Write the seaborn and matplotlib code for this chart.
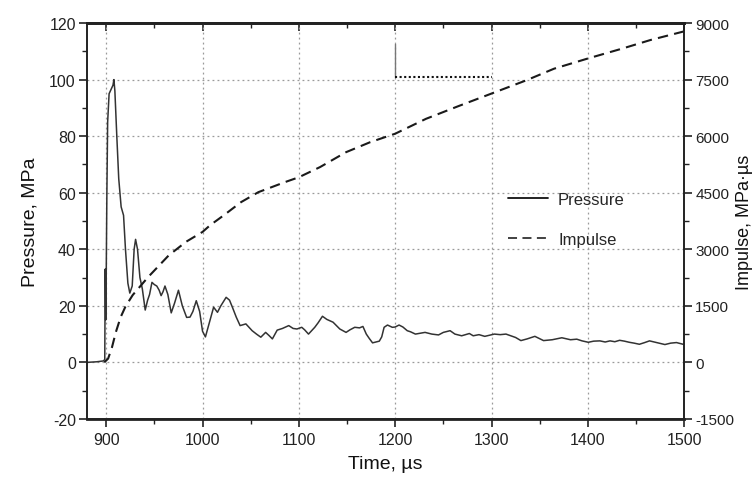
import matplotlib
matplotlib.use("Agg")
import matplotlib.pyplot as plt
import pandas as pd
import seaborn as sns
from matplotlib.lines import Line2D
from matplotlib.ticker import MultipleLocator

sns.set_theme(style="ticks")
plt.rcParams["font.family"] = ["Liberation Sans", "DejaVu Sans"]
plt.rcParams["axes.unicode_minus"] = False

# Pressure trace, MPa
time_p = [
    880, 890, 897, 898.5, 899, 899.5, 900, 900.7, 901.5, 903,
    905, 907, 908, 909, 911, 913, 915.5, 918, 920, 922.5,
    924.5, 927, 929, 930.5, 932.5, 935, 937.5, 940.5, 943, 945,
    947.5, 950, 952.5, 955, 957, 959, 961, 964, 967.5, 971,
    975, 979, 983.5, 987, 990, 993.5, 997, 1000, 1003, 1007,
    1011.5, 1015.5, 1019, 1024.5, 1028, 1031, 1035, 1039, 1045, 1051.5,
    1056, 1060.5, 1065.5, 1069, 1072.5, 1077.5, 1083, 1089.5, 1094, 1098,
    1103, 1106, 1110, 1116.5, 1120, 1124.5, 1129, 1135.5, 1142.5, 1149,
    1153, 1158, 1163, 1166.5, 1170, 1173, 1176.5, 1180, 1183.5, 1186,
    1188.5, 1192, 1197, 1200, 1204, 1208, 1212.5, 1216, 1221, 1226,
    1231, 1238, 1245, 1250, 1257, 1262, 1269, 1277, 1281, 1287,
    1293, 1298, 1303, 1309, 1315, 1320, 1325, 1330.5, 1337, 1345,
    1354, 1363, 1373, 1382, 1388.5, 1394, 1400.5, 1406, 1412.5, 1418,
    1423, 1428, 1433, 1438, 1443, 1448, 1453.5, 1459, 1464, 1469,
    1473, 1480, 1486, 1492, 1500,
]
pressure = [
    0, 0.2, 0.5, 1, 33, 15, 30, 60, 85, 95,
    96.5, 98, 100, 96, 80, 65, 55, 52, 40, 28,
    24.5, 27, 40, 43.5, 40, 30, 26, 18.5, 22, 24,
    28.3, 27.5, 27, 25.5, 23.6, 25, 27, 24, 17.5, 21,
    25.5, 20, 15.9, 16, 18, 21.8, 18, 11, 9, 14,
    19.5, 17.7, 20, 23, 22, 19.5, 16, 13, 13.6, 11.2,
    10, 8.9, 10.6, 9.5, 8.3, 11.4, 12, 13, 12, 11.8,
    12.4, 11.5, 10, 12.4, 14, 16.3, 15.2, 14.2, 11.8, 10.6,
    11.5, 12.4, 12.2, 12.7, 10, 8.5, 6.9, 7.2, 7.5, 9,
    12.4, 13.2, 12.4, 12.5, 13.2, 12.5, 11.2, 10.8, 10, 10.3,
    10.6, 10, 9.7, 10.6, 11.2, 10, 9.4, 10.2, 9.4, 9.8,
    9.2, 9.6, 10, 9.8, 10, 9.4, 8.8, 7.7, 8.3, 9.2,
    7.7, 8, 8.7, 8, 8.2, 7.6, 7.1, 7.5, 7.6, 7.2,
    7.6, 7.3, 7.8, 7.5, 7.1, 6.8, 6.4, 7, 7.6, 7.2,
    6.9, 6.3, 6.8, 7, 6.3,
]

# Impulse, MPa·µs
time_i = [
    898, 902, 906, 910, 915, 920, 927.5, 943.6, 965, 983,
    1000, 1008, 1022, 1040, 1058, 1086, 1100, 1122, 1149, 1174,
    1200, 1232, 1266, 1300, 1336, 1365, 1400, 1436, 1465, 1500,
]
impulse = [
    0, 100, 400, 800, 1200, 1480, 1785, 2265, 2840, 3200,
    3460, 3640, 3900, 4250, 4515, 4785, 4910, 5180, 5575, 5840,
    6065, 6460, 6800, 7130, 7480, 7790, 8060, 8325, 8550, 8780,
]

# small scale marker near the top of the plot
mark_vert_t = [1200, 1200]
mark_vert_p = [101, 112.5]
mark_horz_t = [1200, 1300]
mark_horz_p = [101, 101]

df_p = pd.DataFrame({"time": time_p, "pressure": pressure})
df_i = pd.DataFrame({"time": time_i, "impulse": impulse})

fig = plt.figure(figsize=(7.56, 4.81), dpi=100)
ax = fig.add_axes([0.115, 0.127, 0.79, 0.823])
ax2 = ax.twinx()

sns.lineplot(data=df_p, x="time", y="pressure", color="#333333", linewidth=1.1,
             ax=ax, estimator=None, sort=False)
sns.lineplot(data=df_i, x="time", y="impulse", color="#1a1a1a", linewidth=1.5,
             ax=ax2, estimator=None, sort=False, dashes=False)
ax2.lines[0].set_dashes((5, 3))

ax.plot(mark_vert_t, mark_vert_p, color="#777777", linewidth=1.0)
ax.plot(mark_horz_t, mark_horz_p, color="#111111", linewidth=1.5, linestyle=(0, (1, 1.2)))

ax.set_xlim(880, 1500)
ax.set_ylim(-20, 120)
ax2.set_ylim(-1500, 9000)

ax.xaxis.set_major_locator(MultipleLocator(100))
ax.xaxis.set_minor_locator(MultipleLocator(50))
ax.yaxis.set_major_locator(MultipleLocator(20))
ax.yaxis.set_minor_locator(MultipleLocator(10))
ax2.yaxis.set_major_locator(MultipleLocator(1500))
ax2.yaxis.set_minor_locator(MultipleLocator(750))

ax.grid(True, which="major", linestyle=(0, (1.5, 2.5)), color="#9a9a9a", linewidth=0.9)
ax.set_axisbelow(True)

tick_color = "#222222"
ax.tick_params(axis="both", which="major", direction="out", length=6, width=1.2,
               labelsize=11.5, colors=tick_color)
ax.tick_params(axis="both", which="minor", direction="out", length=3.5, width=1.0,
               colors=tick_color)
ax.tick_params(axis="y", pad=2)
ax2.tick_params(axis="y", which="major", direction="out", length=6, width=1.2,
                labelsize=11, colors=tick_color, pad=2)
ax2.tick_params(axis="y", which="minor", direction="out", length=3.5, width=1.0,
                colors=tick_color)

top = ax.secondary_xaxis("top")
top.xaxis.set_major_locator(MultipleLocator(100))
top.xaxis.set_minor_locator(MultipleLocator(50))
top.tick_params(which="major", direction="in", length=6, width=1.2, labeltop=False, colors=tick_color)
top.tick_params(which="minor", direction="in", length=3.5, width=1.0, colors=tick_color)

for a in (ax, ax2):
    for side in ("left", "right", "bottom", "top"):
        a.spines[side].set_visible(True)
        a.spines[side].set_color("#222222")
        a.spines[side].set_linewidth(1.2)
ax.spines["bottom"].set_linewidth(2.0)
ax.spines["top"].set_linewidth(2.0)
top.spines["top"].set_linewidth(2.0)
top.spines["top"].set_color("#222222")

ax.set_xlabel("Time, µs", fontsize=14, color="#111111", labelpad=6)
ax.set_ylabel("Pressure, MPa", fontsize=14, color="#111111", labelpad=8)
ax2.set_ylabel("Impulse, MPa·µs", fontsize=13, color="#111111", labelpad=1)

handles = [
    Line2D([], [], color="#111111", linewidth=1.3),
    Line2D([], [], color="#333333", linewidth=1.3, dashes=(5, 3)),
]
ax2.legend(handles, ["Pressure", "Impulse"], frameon=False, fontsize=12,
           loc="center left", bbox_to_anchor=(0.68, 0.505), labelspacing=1.5,
           handlelength=2.4, handletextpad=0.6)

fig.savefig("out.png", dpi=100)
